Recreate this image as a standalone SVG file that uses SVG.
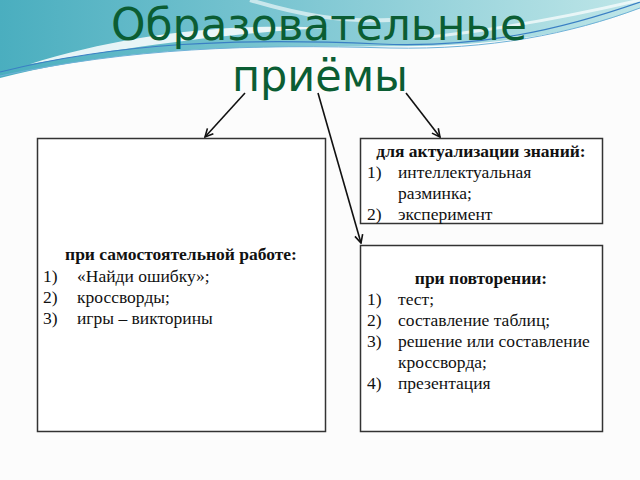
<svg xmlns="http://www.w3.org/2000/svg" width="640" height="480" viewBox="0 0 640 480">
<defs>
<linearGradient id="band" x1="0" y1="0" x2="1" y2="0">
<stop offset="0" stop-color="#4aaebf"/>
<stop offset="0.45" stop-color="#7cc6d2"/>
<stop offset="1" stop-color="#bfe6e8"/>
</linearGradient>
<marker id="arr" viewBox="0 0 10 10" refX="9" refY="5" markerWidth="10" markerHeight="10" markerUnits="userSpaceOnUse" orient="auto">
<path d="M1,1 L9,5 L1,9" fill="none" stroke="#111" stroke-width="1.6"/>
</marker>
<style>
.box{fill:#fff;stroke:#333;stroke-width:1.5}
.t{font-family:"Liberation Serif","Times New Roman",serif;font-size:17.5px;fill:#111}
.b{font-weight:bold;text-anchor:middle}
.title{font-family:"DejaVu Sans","Liberation Sans",sans-serif;fill:#0b5d33;text-anchor:middle}
.conn line{stroke:#111;stroke-width:1.6;marker-end:url(#arr)}
</style>
</defs>
<rect width="640" height="480" fill="#fcfcfc"/>
<g id="decor">
<path d="M0,0 H640 V8 C590,28 520,44 420,46 C300,48 150,40 0,78 Z" fill="url(#band)"/>
<path d="M30,64 C120,36 220,22 330,28 C270,30 170,40 30,64 Z" fill="#ffffff" opacity="0.85"/>
<path d="M0,72 C120,42 240,38 380,44 C480,48 560,30 640,2" fill="none" stroke="#3a7fc4" stroke-width="1.2"/>
<path d="M0,76 C130,48 250,44 390,48 C490,50 570,34 640,8" fill="none" stroke="#6fb2d8" stroke-width="1"/>
<path d="M420,38 C500,30 580,14 640,0" fill="none" stroke="#ffffff" stroke-width="3" opacity="0.7"/>
<path d="M250,0 C300,15 340,22 390,20" fill="none" stroke="#ffffff" stroke-width="4" opacity="0.6"/>
</g>
<g id="title">
<text class="title" x="319" y="40" font-size="44" textLength="416" lengthAdjust="spacingAndGlyphs">Образовательные</text>
<text class="title" x="320" y="91" font-size="44" textLength="176" lengthAdjust="spacingAndGlyphs">приёмы</text>
</g>
<g class="conn" id="connectors">
<line x1="245" y1="93" x2="205" y2="137"/>
<line x1="318" y1="93" x2="361" y2="243"/>
<line x1="406" y1="93" x2="440" y2="137"/>
</g>
<g id="node-self">
<rect class="box" x="37.5" y="138.5" width="288" height="293"/>
<text class="t b" x="181" y="260">при самостоятельной работе:</text>
<text class="t" x="43" y="282">1)</text><text class="t" x="77" y="282">«Найди ошибку»;</text>
<text class="t" x="43" y="303">2)</text><text class="t" x="77" y="303">кроссворды;</text>
<text class="t" x="43" y="324">3)</text><text class="t" x="77" y="324">игры – викторины</text>
</g>
<g id="node-actual">
<rect class="box" x="360.5" y="138.5" width="242" height="85"/>
<text class="t b" x="481" y="157">для актуализации знаний:</text>
<text class="t" x="367" y="178">1)</text><text class="t" x="398" y="178">интеллектуальная</text>
<text class="t" x="398" y="199">разминка;</text>
<text class="t" x="367" y="220">2)</text><text class="t" x="398" y="220">эксперимент</text>
</g>
<g id="node-repeat">
<rect class="box" x="360.5" y="245.5" width="242" height="186"/>
<text class="t b" x="481" y="284">при повторении:</text>
<text class="t" x="367" y="305">1)</text><text class="t" x="398" y="305">тест;</text>
<text class="t" x="367" y="326">2)</text><text class="t" x="398" y="326">составление таблиц;</text>
<text class="t" x="367" y="347">3)</text><text class="t" x="398" y="347">решение или составление</text>
<text class="t" x="398" y="368">кроссворда;</text>
<text class="t" x="367" y="389">4)</text><text class="t" x="398" y="389">презентация</text>
</g>
</svg>
